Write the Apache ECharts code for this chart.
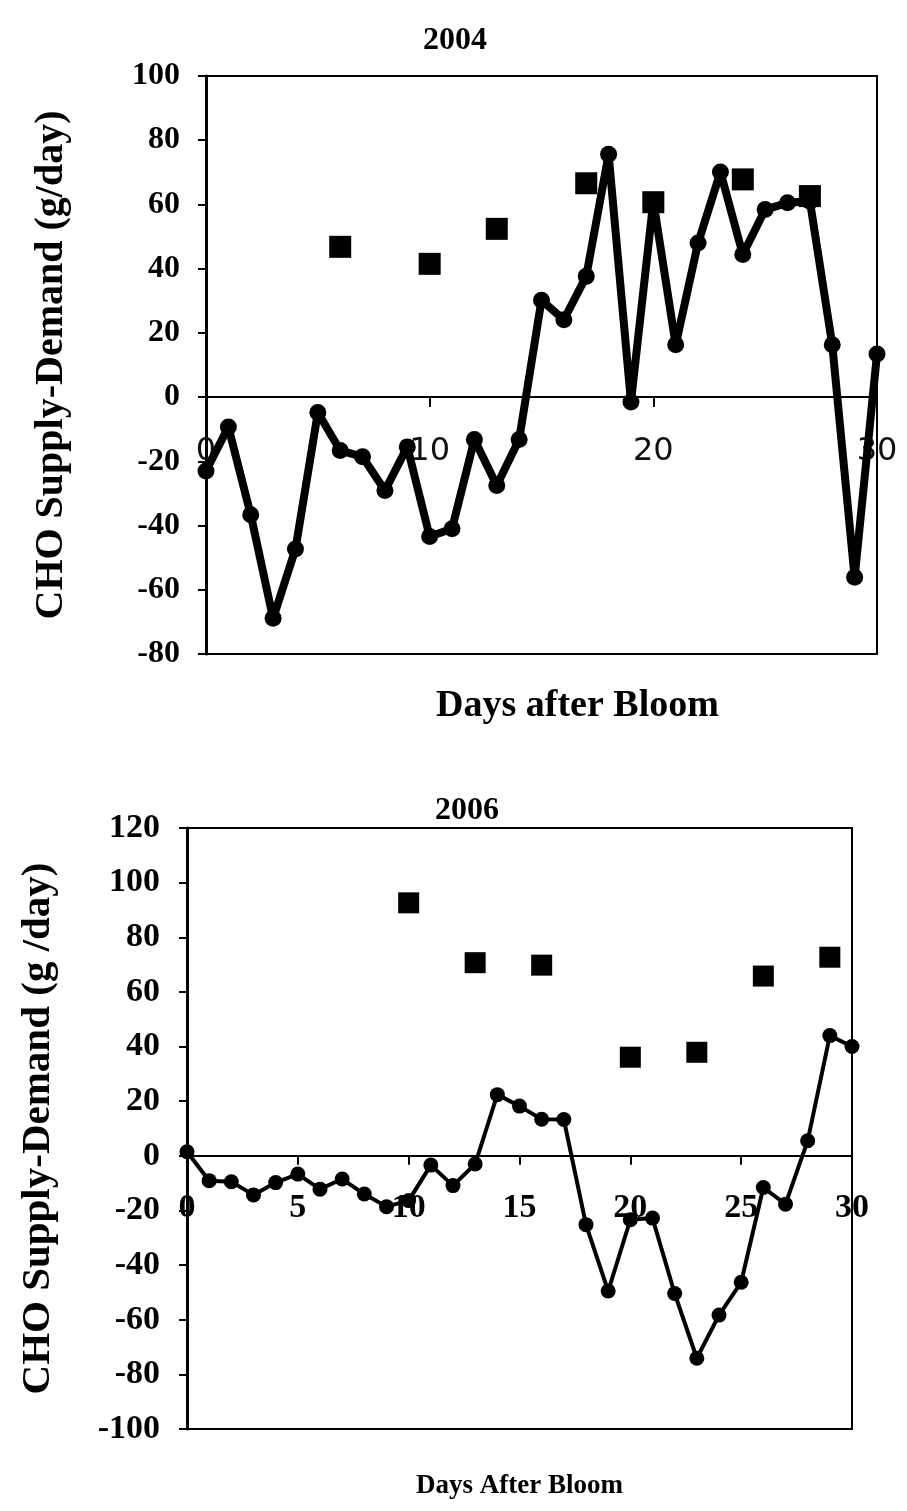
<!DOCTYPE html>
<html>
<head>
<meta charset="utf-8">
<script src="https://cdn.jsdelivr.net/npm/echarts@6.0.0/dist/echarts.min.js"></script>
<style>
html,body{margin:0;padding:0;background:#fff;}
#chart{width:907px;height:1511px;}
</style>
</head>
<body>
<div id="chart"></div>
<script>
// ---- Data ----
const days = [0,1,2,3,4,5,6,7,8,9,10,11,12,13,14,15,16,17,18,19,20,21,22,23,24,25,26,27,28,29,30];

// 2004 daily supply-demand (line with circles)
const line2004 = [-23.0,-9.3,-36.6,-68.9,-47.3,-4.8,-16.6,-18.6,-29.1,-15.5,-43.4,-41.0,-13.2,-27.5,-13.2,30.2,24.1,37.6,75.6,-1.5,61.0,16.3,48.0,70.1,44.4,58.4,60.5,61.0,16.3,-56.1,13.4];
// 2004 squares
const sqDays2004 = [6,10,13,17,20,24,27];
const sq2004 = [46.8,41.5,52.4,66.6,60.7,67.8,62.6];

// 2006 daily supply-demand (line with circles)
const line2006 = [1.5,-9.1,-9.5,-14.3,-9.8,-6.7,-12.2,-8.5,-14.0,-18.6,-16.4,-3.4,-10.9,-3.0,22.4,18.2,13.4,13.3,-25.2,-49.5,-23.4,-22.8,-50.4,-74.1,-58.3,-46.3,-11.6,-17.7,5.5,44.0,40.0];
// 2006 squares
const sqDays2006 = [10,13,16,20,23,26,29];
const sq2006 = [92.6,70.7,69.8,36.1,37.9,65.8,72.7];

// Axis ranges
const yRange2004 = [-80, 100];
const yRange2006 = [-100, 120];

// Titles / axis names
const titles = ['2004','2006'];
const yNames = ['CHO Supply-Demand (g/day)','CHO Supply-Demand (g /day)'];
const xNames = ['Days after Bloom','Days After Bloom'];

const zip = (xs, ys) => xs.map((x, i) => [x, ys[i]]);
const serif = '"Liberation Serif", "Times New Roman", serif';

// grid boxes (layout)
const g1 = {left: 206, top: 76, width: 671, height: 578};
const g2 = {left: 187, top: 828, width: 665, height: 601};
// offset that lifts the bottom x axis up to the value 0 line
const zeroOffset = (g, r) => -(g.height * (0 - r[0]) / (r[1] - r[0]));

const chart = echarts.init(document.getElementById('chart'), null, {renderer: 'canvas'});

const option = {
  backgroundColor: '#fff',
  animation: false,
  graphic: [
    {type: 'text', x: 455, y: 41, style: {text: titles[0], font: 'bold 32px ' + serif, fill: '#000', textAlign: 'center', textVerticalAlign: 'middle', verticalAlign: 'middle'}},
    {type: 'text', x: 467, y: 811, style: {text: titles[1], font: 'bold 32px ' + serif, fill: '#000', textAlign: 'center', textVerticalAlign: 'middle', verticalAlign: 'middle'}}
  ],
  grid: [
    Object.assign({show: true, borderColor: '#000', borderWidth: 2, backgroundColor: 'transparent', containLabel: false, outerBoundsMode: 'none'}, g1),
    Object.assign({show: true, borderColor: '#000', borderWidth: 2, backgroundColor: 'transparent', containLabel: false, outerBoundsMode: 'none'}, g2)
  ],
  xAxis: [
    {
      gridIndex: 0, type: 'value', min: 0, max: 30, interval: 10, position: 'bottom',
      offset: zeroOffset(g1, yRange2004),
      axisLine: {show: true, onZero: false, lineStyle: {color: '#000', width: 2}},
      axisTick: {show: true, inside: false, length: 10, lineStyle: {color: '#000', width: 2}},
      axisLabel: {show: true, margin: 39, fontSize: 32, fontFamily: '"DejaVu Sans", sans-serif', color: '#111', showMinLabel: true, showMaxLabel: true, hideOverlap: false},
      splitLine: {show: false},
      name: xNames[0], nameLocation: 'middle', nameGap: 290,
      nameTextStyle: {fontSize: 38, fontWeight: 'bold', fontFamily: serif, color: '#000', padding: [0, 0, 0, 72]}
    },
    {
      gridIndex: 1, type: 'value', min: 0, max: 30, interval: 5, position: 'bottom',
      offset: zeroOffset(g2, yRange2006),
      axisLine: {show: true, onZero: false, lineStyle: {color: '#000', width: 2}},
      axisTick: {show: true, inside: false, length: 9, lineStyle: {color: '#000', width: 2}},
      axisLabel: {show: true, margin: 35, fontSize: 34, fontWeight: 'bold', fontFamily: serif, color: '#000', showMinLabel: true, showMaxLabel: true, hideOverlap: false},
      splitLine: {show: false},
      name: xNames[1], nameLocation: 'middle', nameGap: 317,
      nameTextStyle: {fontSize: 27, fontWeight: 'bold', fontFamily: serif, color: '#000'}
    }
  ],
  yAxis: [
    {
      gridIndex: 0, type: 'value', min: yRange2004[0], max: yRange2004[1], interval: 20,
      axisLine: {show: true, onZero: false, lineStyle: {color: '#000', width: 3}},
      axisTick: {show: true, inside: false, length: 8, lineStyle: {color: '#000', width: 2}},
      axisLabel: {show: true, margin: 26, fontSize: 32, fontWeight: 'bold', fontFamily: serif, color: '#000', hideOverlap: false},
      splitLine: {show: false},
      name: yNames[0], nameLocation: 'middle', nameGap: 134, nameRotate: 90,
      nameTextStyle: {fontSize: 40, fontWeight: 'bold', fontFamily: serif, color: '#000'}
    },
    {
      gridIndex: 1, type: 'value', min: yRange2006[0], max: yRange2006[1], interval: 20,
      axisLine: {show: true, onZero: false, lineStyle: {color: '#000', width: 3}},
      axisTick: {show: true, inside: false, length: 8, lineStyle: {color: '#000', width: 2}},
      axisLabel: {show: true, margin: 27, fontSize: 34, fontWeight: 'bold', fontFamily: serif, color: '#000', hideOverlap: false},
      splitLine: {show: false},
      name: yNames[1], nameLocation: 'middle', nameGap: 128, nameRotate: 90,
      nameTextStyle: {fontSize: 41, fontWeight: 'bold', fontFamily: serif, color: '#000'}
    }
  ],
  series: [
    {
      name: 'Squares 2004', type: 'scatter', xAxisIndex: 0, yAxisIndex: 0,
      data: zip(sqDays2004, sq2004), symbol: 'rect', symbolSize: 22,
      itemStyle: {color: '#000', opacity: 1}, clip: false, z: 2
    },
    {
      name: 'Daily 2004', type: 'line', xAxisIndex: 0, yAxisIndex: 0,
      data: zip(days, line2004), symbol: 'circle', symbolSize: 17, showSymbol: true,
      lineStyle: {color: '#000', width: 8}, itemStyle: {color: '#000', borderWidth: 0, opacity: 1},
      clip: false, z: 3
    },
    {
      name: 'Squares 2006', type: 'scatter', xAxisIndex: 1, yAxisIndex: 1,
      data: zip(sqDays2006, sq2006), symbol: 'rect', symbolSize: 21,
      itemStyle: {color: '#000', opacity: 1}, clip: false, z: 2
    },
    {
      name: 'Daily 2006', type: 'line', xAxisIndex: 1, yAxisIndex: 1,
      data: zip(days, line2006), symbol: 'circle', symbolSize: 15, showSymbol: true,
      lineStyle: {color: '#000', width: 4}, itemStyle: {color: '#000', borderWidth: 0, opacity: 1},
      clip: false, z: 3
    }
  ]
};
chart.setOption(option);
</script>
</body>
</html>
